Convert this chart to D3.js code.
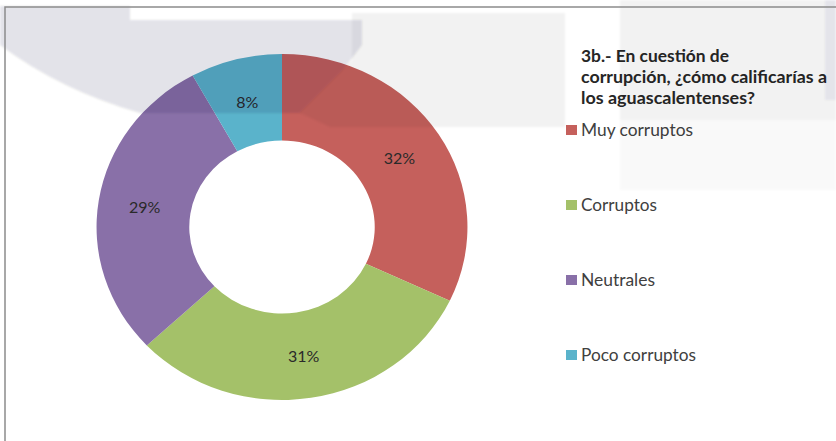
<!DOCTYPE html>
<html>
<head>
<meta charset="utf-8">
<script src="https://cdn.jsdelivr.net/npm/d3@7"></script>
<style>
  html, body { margin: 0; padding: 0; background: #ffffff; }
  svg { display: block; }
  text { font-family: Lato, "Open Sans", sans-serif; }
</style>
</head>
<body>
<svg id="chart" width="836" height="441"></svg>
<script>
// Survey answers and their shares (%)
const categories = ["Muy corruptos", "Corruptos", "Neutrales", "Poco corruptos"];
const shares = [32, 31, 29, 8];
const colors = ["#C5605C", "#A4C169", "#8970A8", "#5AB3CB"];
const titleLines = ["3b.- En cuestión de", "corrupción, ¿cómo calificarías a", "los aguascalentenses?"];

const svg = d3.select("#chart");
const W = 836, H = 441;

// fit a text element to a given width
function fitWidth(sel, width) {
  sel.each(function () {
    const len = this.getComputedTextLength();
    if (Math.abs(len - width) / width > 0.02) {
      d3.select(this).attr("textLength", width).attr("lengthAdjust", "spacingAndGlyphs");
    }
  });
}

// ---- doughnut ----
const cx = 282, cy = 227, rOuter = 173, rInner = 86.5, sx = 1.072;
const data = categories.map((c, i) => ({ name: c, value: shares[i], color: colors[i] }));
const pie = d3.pie().value(d => d.value).sort(null);
const arc = d3.arc().innerRadius(rInner).outerRadius(rOuter);
const arcs = pie(data);

const ring = svg.append("g").attr("transform", `translate(${cx},${cy}) scale(${sx},1)`);
ring.selectAll("path").data(arcs).join("path")
  .attr("d", arc)
  .attr("fill", d => d.data.color);

svg.append("g").selectAll("text").data(arcs).join("text")
  .attr("x", d => cx + arc.centroid(d)[0] * sx)
  .attr("y", d => cy + arc.centroid(d)[1])
  .attr("text-anchor", "middle")
  .attr("dominant-baseline", "central")
  .attr("font-size", 16)
  .attr("fill", "#2a2a2a")
  .text(d => d.data.value + "%");

// ---- title ----
const titleWidths = [148, 246, 174];
svg.append("g").selectAll("text").data(titleLines).join("text")
  .attr("x", 581)
  .attr("y", (d, i) => 62 + i * 21)
  .attr("font-size", 17)
  .attr("font-weight", "bold")
  .attr("fill", "#262626")
  .text(d => d)
  .each(function (d, i) { fitWidth(d3.select(this), titleWidths[i]); });

// ---- legend ----
const legendWidths = [112, 76, 74, 115];
const legend = svg.append("g").selectAll("g").data(data).join("g")
  .attr("transform", (d, i) => `translate(566,${130 + i * 75})`);
legend.append("rect")
  .attr("x", 0).attr("y", -5).attr("width", 11).attr("height", 10)
  .attr("fill", d => d.color);
legend.append("text")
  .attr("x", 15).attr("y", 0)
  .attr("dominant-baseline", "central")
  .attr("font-size", 16.5)
  .attr("fill", "#404040")
  .text(d => d.name)
  .each(function (d, i) { fitWidth(d3.select(this), legendWidths[i]); });

// ---- faint background emblem across the top ----
const defs = svg.append("defs");
defs.append("filter").attr("id", "soft")
  .append("feGaussianBlur").attr("stdDeviation", 1.2);
const emblem = svg.append("g").attr("filter", "url(#soft)").attr("pointer-events", "none");
emblem.append("path")
  .attr("d", "M0,6 L130,6 L130,20 L362,20 L362,45 L343,70 L300,113 L140,113 Q60,90 0,45 Z")
  .attr("fill", "#1a1530").attr("opacity", 0.11);
emblem.append("path")
  .attr("d", "M352,13 L565,13 L565,127 L330,127 L300,113 L343,70 L352,60 Z")
  .attr("fill", "#1a1530").attr("opacity", 0.05);
emblem.append("path")
  .attr("d", "M620,0 L836,0 L836,120 L620,120 Z")
  .attr("fill", "#1a1530").attr("opacity", 0.05);
emblem.append("path")
  .attr("d", "M620,120 L836,120 L836,190 L620,190 Z")
  .attr("fill", "#1a1530").attr("opacity", 0.022);
emblem.append("path")
  .attr("d", "M825,0 L836,0 L836,100 L825,100 Z")
  .attr("fill", "#1a1530").attr("opacity", 0.06);

// ---- frame ----
svg.append("path")
  .attr("d", `M5,${H} L5,7 L${W},7`)
  .attr("fill", "none")
  .attr("stroke", "#8c8c8c")
  .attr("stroke-width", 1.5);
</script>
</body>
</html>
